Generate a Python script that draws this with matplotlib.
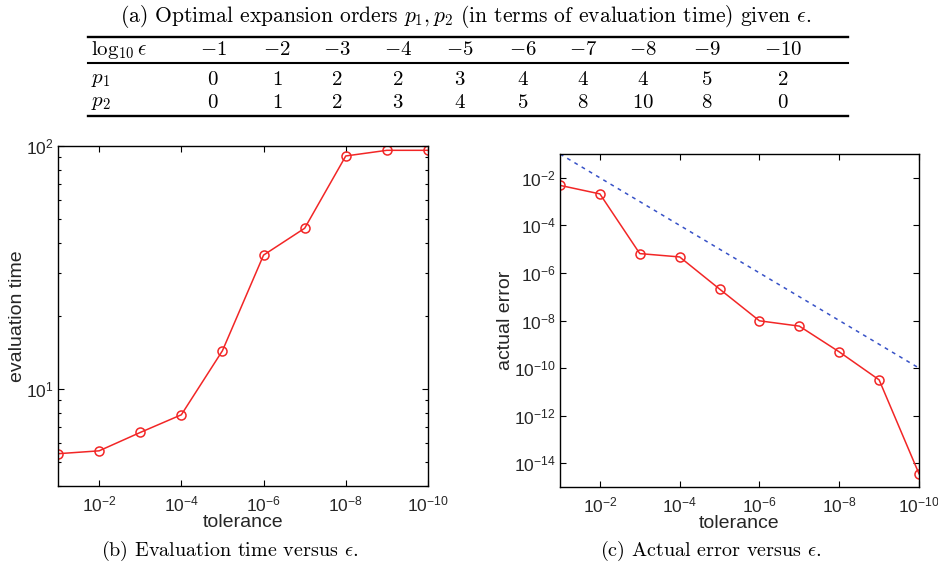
import numpy as np
import matplotlib
matplotlib.use("Agg")
import matplotlib.pyplot as plt
from matplotlib.lines import Line2D
from matplotlib.ticker import FixedLocator, FuncFormatter, NullLocator, LogLocator, NullFormatter

plt.rcParams['font.family'] = ['Liberation Sans', 'DejaVu Sans']
plt.rcParams['mathtext.fontset'] = 'custom'
plt.rcParams['mathtext.rm'] = 'Liberation Sans'
plt.rcParams['mathtext.it'] = 'Liberation Sans:italic'

# optimal orders table
log_eps = [-1, -2, -3, -4, -5, -6, -7, -8, -9, -10]
p1 = [0, 1, 2, 2, 3, 4, 4, 4, 5, 2]
p2 = [0, 1, 2, 3, 4, 5, 8, 10, 8, 0]

# timing / error runs
tol = [1e-1, 1e-2, 1e-3, 1e-4, 1e-5, 1e-6, 1e-7, 1e-8, 1e-9, 1e-10]
eval_time = [5.43, 5.58, 6.64, 7.85, 14.4, 35.6, 45.9, 91.0, 96.0, 96.0]
actual_error = [4.8e-3, 2.1e-3, 6.5e-6, 4.7e-6, 2.1e-7, 9.7e-9, 5.8e-9, 4.8e-10, 3.2e-11, 3.6e-15]

W, H = 938, 573
fig = plt.figure(figsize=(W / 100, H / 100), dpi=100)

def fx(px):
    return px / W

def fy(py):
    return 1 - py / H

serif = dict(fontfamily='cmr10', math_fontfamily='cm', color='black')
tfs = 15

# table caption and body
fig.text(fx(466), fy(17), r"(a) Optimal expansion orders $p_1, p_2$ (in terms of evaluation time) given $\epsilon$.",
         ha='center', va='center', fontsize=15.5, **serif)

for yy, lw in [(36.5, 1.7), (62.5, 1.5), (115.5, 1.7)]:
    fig.add_artist(Line2D([fx(88), fx(848)], [fy(yy), fy(yy)], color='black', lw=lw,
                          transform=fig.transFigure))

col_x = [213, 277, 337, 398, 460, 523, 583, 643, 707, 783]
row_y = [50, 80, 103]
fig.text(fx(91), fy(row_y[0]), r"$\log_{10}\epsilon$", ha='left', va='center', fontsize=tfs, **serif)
fig.text(fx(91), fy(row_y[1]), r"$p_1$", ha='left', va='center', fontsize=tfs, **serif)
fig.text(fx(91), fy(row_y[2]), r"$p_2$", ha='left', va='center', fontsize=tfs, **serif)
for i, cx in enumerate(col_x):
    fig.text(fx(cx), fy(row_y[0]), r"$%d$" % log_eps[i], ha='center', va='center', fontsize=tfs, **serif)
    fig.text(fx(cx), fy(row_y[1]), r"$%d$" % p1[i], ha='center', va='center', fontsize=tfs, **serif)
    fig.text(fx(cx), fy(row_y[2]), r"$%d$" % p2[i], ha='center', va='center', fontsize=tfs, **serif)

red = (0.95, 0.15, 0.15)
blue = (0.22, 0.32, 0.78)
grey = (0.15, 0.15, 0.15)

def pow_fmt(v, pos):
    e = int(round(np.log10(v)))
    return r"$10^{%d}$" % e

def style(ax):
    ax.set_xscale('log')
    ax.set_yscale('log')
    ax.set_xlim(1e-1, 1e-10)
    ax.xaxis.set_major_locator(FixedLocator([1e-2, 1e-4, 1e-6, 1e-8, 1e-10]))
    ax.xaxis.set_minor_locator(NullLocator())
    ax.xaxis.set_major_formatter(FuncFormatter(pow_fmt))
    ax.tick_params(which='both', direction='in', top=True, right=True, labelsize=12.5,
                   width=0.8, colors='black', labelcolor=grey)
    ax.tick_params(axis='x', pad=6)
    ax.tick_params(axis='y', pad=3)
    ax.tick_params(which='major', length=4)
    ax.tick_params(which='minor', length=2.5)
    for s in ax.spines.values():
        s.set_linewidth(1.0)
    ax.set_xlabel('tolerance', fontsize=14, color=grey, labelpad=0)

# (b) evaluation time
ax1 = fig.add_axes([fx(58), fy(486), fx(428 - 58), (486 - 146) / H])
ax1.plot(tol, eval_time, '-o', color=red, lw=1.1, ms=6.5, mfc='none', mec=red, mew=1.1)
style(ax1)
ax1.set_ylim(4, 100)
ax1.yaxis.set_major_locator(FixedLocator([10, 100]))
ax1.yaxis.set_minor_locator(LogLocator(base=10, subs=np.arange(2, 10)))
ax1.yaxis.set_minor_formatter(NullFormatter())
ax1.yaxis.set_major_formatter(FuncFormatter(pow_fmt))
ax1.set_ylabel('evaluation time', fontsize=14, color=grey, labelpad=0)

# (c) actual error
ax2 = fig.add_axes([fx(560), fy(487), fx(919 - 560), (487 - 154) / H])
ax2.plot(tol, tol, '--', color=blue, lw=1.1, dashes=(2.5, 3))
ax2.plot(tol, actual_error, '-o', color=red, lw=1.1, ms=6.5, mfc='none', mec=red, mew=1.1)
style(ax2)
ax2.set_ylim(1e-15, 1e-1)
ax2.yaxis.set_major_locator(FixedLocator([1e-14, 1e-12, 1e-10, 1e-8, 1e-6, 1e-4, 1e-2]))
ax2.yaxis.set_minor_locator(NullLocator())
ax2.yaxis.set_major_formatter(FuncFormatter(pow_fmt))
ax2.set_ylabel('actual error', fontsize=14, color=grey, labelpad=0)

# sub-captions
fig.text(fx(230), fy(551), r"(b) Evaluation time versus $\epsilon$.", ha='center', va='center',
         fontsize=14.5, **serif)
fig.text(fx(711), fy(551), r"(c) Actual error versus $\epsilon$.", ha='center', va='center',
         fontsize=14.5, **serif)

fig.savefig('out.png', dpi=100)
